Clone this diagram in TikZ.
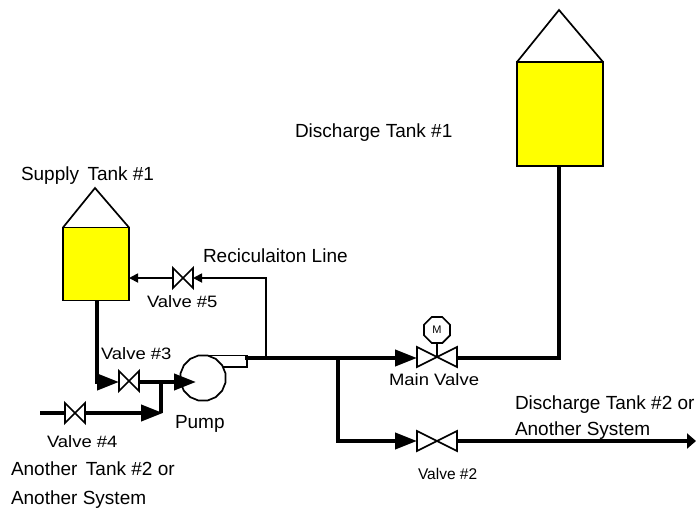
\documentclass[tikz,border=0pt]{standalone}
\usepackage{fontspec}
\setmainfont{Liberation Sans}
\newfontfamily\widesans[FakeStretch=1.12]{Liberation Sans}
\usetikzlibrary{arrows.meta,shapes.geometric,calc}
\definecolor{tankyellow}{RGB}{255,255,0}
\tikzset{
  x=1pt,y=-1pt,
  every node/.style={inner sep=0pt,outer sep=0pt},
  tankbody/.style={draw=black,line width=1.7pt,fill=tankyellow,rectangle},
  roofline/.style={draw=black,line width=1.7pt,line join=miter},
  valvebox/.style={rectangle,minimum width=#1,minimum height=20pt},
  bowtie/.style={draw=black,line width=1.7pt,fill=white,line join=miter},
  bigpipe/.style={line width=4pt,line join=miter,line cap=butt},
  thinpipe/.style={line width=1.7pt,line join=miter},
  bigtip/.style={-{Triangle[length=22pt,width=16pt]}},
  smalltip/.style={-{Triangle[length=9pt,width=9pt]}},
  lbl/.style={font=\fontsize{19}{21}\selectfont,anchor=base west,text=black},
  smalllbl/.style={font=\widesans\fontsize{16.5}{19}\selectfont,anchor=base west,text=black},
}
\newcommand{\valvetie}[1]{\draw[bowtie] (#1.south west)--(#1.north west)--(#1.south east)--(#1.north east)--cycle;}
\begin{document}
\begin{tikzpicture}
\useasboundingbox (0,0) rectangle (696,509);
% tanks
\node[tankbody,minimum width=66pt,minimum height=73pt] (supply) at (96,264) {};
\coordinate (supplyapex) at (95,188);
\draw[roofline] (supply.north west)--(supplyapex)--(supply.north east);
\node[tankbody,minimum width=86pt,minimum height=104pt] (discharge) at (560,114) {};
\coordinate (dischargeapex) at (559,10);
\draw[roofline] (discharge.north west)--(dischargeapex)--(discharge.north east);
% valves
\node[valvebox=20pt] (v3) at (129,381) {};
\node[valvebox=20pt] (v4) at (75,413) {};
\node[valvebox=20pt] (v5) at (183,278) {};
\node[valvebox=40pt] (vm) at (437,357) {};
\node[valvebox=40pt] (v2) at (437,441) {};
% pump
\node[draw=black,line width=1.7pt,fill=white,regular polygon,regular polygon sides=16,minimum size=46pt] (pump) at (203,378) {};
\coordinate (pumptopl) at (200,355.5);
\coordinate (outr) at (247,355.5);
\coordinate (outrb) at (247,367);
\coordinate (outb) at (223,367);
\draw[thinpipe] (pumptopl)--(outr)--(outrb)--(outb);
% junctions
\coordinate (feedstart) at (97,300);
\coordinate (feedturn) at (97,382);
\coordinate (pumpin) at (196,382);
\coordinate (tee) at (161,382);
\coordinate (in4) at (40,413);
\coordinate (tee4) at (163,413);
\coordinate (outstart) at (245,358);
\coordinate (recircup) at (266,358);
\coordinate (recirctop) at (266,278);
\coordinate (branch) at (338,358);
\coordinate (branchb) at (338,441);
\coordinate (rise) at (559,358);
\coordinate (endout) at (696,441);
% big pipes
\draw[bigpipe,bigtip] (feedstart)--(feedturn)--(v3.west |- feedturn);
\draw[bigpipe,bigtip] (v3.east |- tee)--(pumpin);
\draw[bigpipe] (in4)--(v4.west);
\draw[bigpipe,bigtip] (v4.east)--(tee4);
\draw[bigpipe] (tee)--(tee |- tee4);
\draw[bigpipe,bigtip] (outstart)--(vm.west |- outstart);
\draw[bigpipe] (vm.east |- outstart)--(rise)--(discharge.south -| rise);
\draw[bigpipe,bigtip] (branch)--(branchb)--(v2.west);
\draw[bigpipe,-{Triangle[length=9pt,width=15pt]}] (v2.east)--(endout);
% recirculation
\draw[thinpipe,smalltip] (recircup)--(recirctop)--(v5.east);
\draw[thinpipe,smalltip] (v5.west)--(supply.east |- v5);
% valve symbols
\valvetie{v3}\valvetie{v4}\valvetie{v5}\valvetie{vm}\valvetie{v2}
% motor
\node[draw=black,line width=1.7pt,fill=white,regular polygon,regular polygon sides=8,minimum size=28pt,font=\fontsize{11}{12}\selectfont] (motor) at (437,330) {M};
\draw[thinpipe] (motor.south)--(vm.center);
% labels
\node[lbl] (t1) at (295,137) {Discharge Tank \#1};
\node[lbl] (t2) at (21,180) {Supply\, Tank \#1};
\node[lbl] (t3) at (203,262) {Reciculaiton Line};
\node[smalllbl] (t4) at (147,307) {Valve \#5};
\node[smalllbl] (t5) at (101,359) {Valve \#3};
\node[lbl] (t6) at (175,428) {Pump};
\node[smalllbl] (t7) at (47,447) {Valve \#4};
\node[lbl] (t8) at (11,475) {Another\, Tank \#2 or};
\node[lbl] (t9) at (11,504) {Another System};
\node[smalllbl] (t10) at (389,385) {Main Valve};
\node[lbl,font=\fontsize{15.5}{18}\selectfont] (t11) at (418,479) {Valve \#2};
\node[lbl] (t12) at (515,409) {Discharge Tank \#2 or};
\node[lbl] (t13) at (515,435) {Another System};
\end{tikzpicture}
\end{document}
